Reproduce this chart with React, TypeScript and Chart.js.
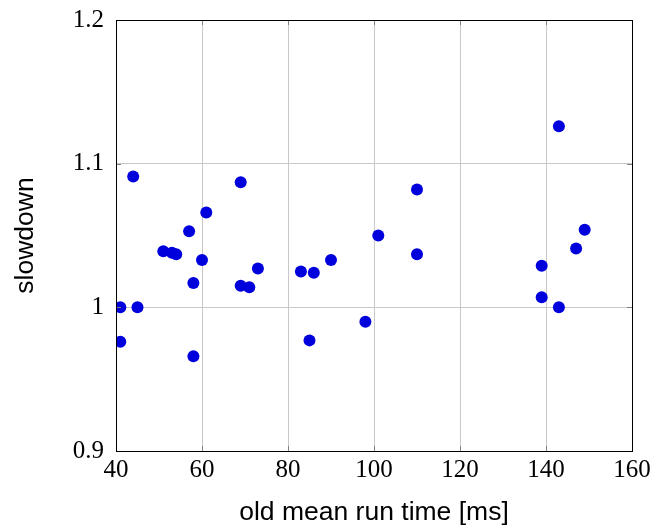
import React, { useEffect, useRef } from "react";
import { Chart, registerables } from "chart.js";

Chart.register(...registerables);

const oldMeanRunTime = [41, 41, 44, 45, 51, 53, 54, 57, 58, 58, 60, 61, 69, 69, 71, 73, 83, 85, 86, 90, 98, 101, 110, 110, 139, 139, 143, 143, 147, 149];
const slowdown = [1.0, 0.976, 1.091, 1.0, 1.039, 1.038, 1.037, 1.053, 1.017, 0.966, 1.033, 1.066, 1.087, 1.015, 1.014, 1.027, 1.025, 0.977, 1.024, 1.033, 0.99, 1.05, 1.082, 1.037, 1.029, 1.007, 1.126, 1.0, 1.041, 1.054];
const xTicks = [40, 60, 80, 100, 120, 140, 160];
const yTicks = [0.9, 1.0, 1.1, 1.2];

const framePlugin = {
  id: "frame",
  afterDatasetsDraw(chart: any) {
    const { ctx, chartArea } = chart;
    const xs = chart.scales.x;
    const ys = chart.scales.y;
    ctx.save();
    ctx.strokeStyle = "#7f7f7f";
    ctx.lineWidth = 1;
    ctx.beginPath();
    const tl = 5;
    for (const v of xTicks) {
      const px = Math.round(xs.getPixelForValue(v)) + 0.5;
      ctx.moveTo(px, chartArea.bottom);
      ctx.lineTo(px, chartArea.bottom - tl);
      ctx.moveTo(px, chartArea.top);
      ctx.lineTo(px, chartArea.top + tl);
    }
    for (const v of yTicks) {
      const py = Math.round(ys.getPixelForValue(v)) + 0.5;
      ctx.moveTo(chartArea.left, py);
      ctx.lineTo(chartArea.left + tl, py);
      ctx.moveTo(chartArea.right, py);
      ctx.lineTo(chartArea.right - tl, py);
    }
    ctx.stroke();
    ctx.strokeStyle = "#000000";
    ctx.lineWidth = 1;
    ctx.strokeRect(
      Math.round(chartArea.left) + 0.5,
      Math.round(chartArea.top) + 0.5,
      Math.round(chartArea.right - chartArea.left),
      Math.round(chartArea.bottom - chartArea.top)
    );
    ctx.restore();
  },
};

export default function App() {
  const ref = useRef<HTMLCanvasElement | null>(null);
  useEffect(() => {
    if (!ref.current) return;
    const chart = new Chart(ref.current, {
      type: "scatter",
      data: {
        datasets: [
          {
            data: oldMeanRunTime.map((x, i) => ({ x, y: slowdown[i] })),
            backgroundColor: "#0000dd",
            borderWidth: 0,
            pointRadius: 6,
          },
        ],
      },
      options: {
        animation: false,
        responsive: false,
        devicePixelRatio: 1,
        layout: { padding: { top: 20, right: 26, left: 0, bottom: 0 } },
        plugins: { legend: { display: false }, tooltip: { enabled: false } },
        scales: {
          x: {
            type: "linear",
            min: 40,
            max: 160,
            afterBuildTicks: (s: any) => {
              s.ticks = xTicks.map((v) => ({ value: v }));
            },
            afterFit: (s: any) => {
              s.height = 76;
              s.paddingLeft = 0;
              s.paddingRight = 0;
            },
            ticks: {
              padding: 4,
              color: "#000",
              font: { family: "Liberation Serif", size: 25 },
              maxRotation: 0,
            },
            grid: { color: "#c8c8c8", drawTicks: false },
            border: { display: false },
            title: {
              display: true,
              text: "old mean run time [ms]",
              color: "#000",
              font: { family: "Liberation Sans", size: 26.5, lineHeight: 1.05 },
              padding: { top: 0, bottom: 0 },
            },
          },
          y: {
            type: "linear",
            min: 0.9,
            max: 1.2,
            afterBuildTicks: (s: any) => {
              s.ticks = yTicks.map((v) => ({ value: v }));
            },
            afterFit: (s: any) => {
              s.width = 116;
              s.paddingTop = 0;
              s.paddingBottom = 0;
            },
            ticks: {
              padding: 12,
              color: "#000",
              font: { family: "Liberation Serif", size: 25 },
              callback: (v: any) => (Math.abs(v - 1) < 1e-9 ? "1" : String(Math.round(v * 10) / 10)),
            },
            grid: { color: "#c8c8c8", drawTicks: false },
            border: { display: false },
            title: {
              display: true,
              text: "slowdown",
              color: "#000",
              font: { family: "Liberation Sans", size: 26.5, lineHeight: 1.2 },
              padding: { top: 10, bottom: 10 },
            },
          },
        },
      },
      plugins: [framePlugin],
    });
    return () => chart.destroy();
  }, []);
  return (
    <div style={{ position: "absolute", left: 0, top: 0, width: 658, height: 527, background: "#fff" }}>
      <canvas ref={ref} width={658} height={527} style={{ width: 658, height: 527 }} />
    </div>
  );
}
